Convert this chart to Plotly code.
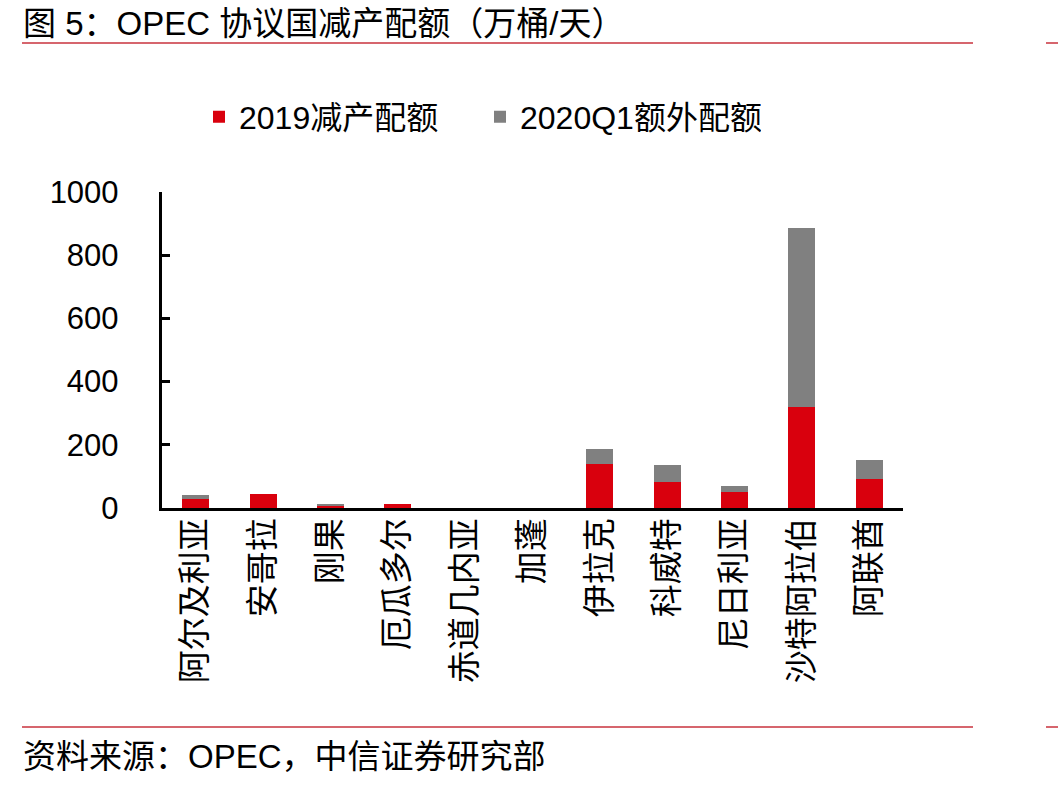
import plotly.graph_objects as go

countries = ["阿尔及利亚", "安哥拉", "刚果", "厄瓜多尔", "赤道几内亚", "加蓬",
             "伊拉克", "科威特", "尼日利亚", "沙特阿拉伯", "阿联酋"]
cut_2019 = [28, 45, 7, 12, 0, 0, 140, 82, 50, 320, 93]
extra_2020q1 = [13, 0, 3, 0, 0, 0, 48, 55, 20, 566, 60]
series_names = ["2019减产配额", "2020Q1额外配额"]
y_tick_step = 200

W, H = 1058, 787
L, R, T, B = 162, 903, 192, 508
pw, ph = R - L, B - T

def px(x):
    return (x - L) / pw

def py(y):
    return (B - y) / ph

CJK = "Liberation Sans, Arial, Noto Sans CJK SC, sans-serif"
RED = "#D9000D"
GREY = "#808080"

fig = go.Figure()
fig.add_trace(go.Bar(x=countries, y=cut_2019, name=series_names[0],
                     marker=dict(color=RED, line=dict(width=0))))
fig.add_trace(go.Bar(x=countries, y=extra_2020q1, name=series_names[1],
                     marker=dict(color=GREY, line=dict(width=0))))

fig.update_layout(
    width=W, height=H,
    barmode="stack", bargap=0.6,
    plot_bgcolor="white", paper_bgcolor="white",
    margin=dict(l=L, r=W - R, t=T, b=H - B, pad=0),
    font=dict(family=CJK, color="black"),
    legend=dict(orientation="h", x=px(199), xanchor="left", y=py(117), yanchor="middle",
                font=dict(size=32, family=CJK), entrywidth=236, entrywidthmode="pixels",
                itemclick=False, traceorder="normal", bgcolor="rgba(0,0,0,0)"),
    showlegend=True,
)
fig.update_layout(yaxis=dict(range=[0, 1000], tickmode="linear", tick0=0, dtick=y_tick_step,
                             ticks="inside", ticklen=8, tickwidth=2.5, tickcolor="black",
                             showline=True, linecolor="black", linewidth=2.5,
                             showgrid=False, zeroline=False,
                             tickfont=dict(size=31, family=CJK),
                             ticksuffix="\u00a0\u00a0\u00a0\u00a0"))
fig.update_xaxes(showline=True, linecolor="black", linewidth=3, ticks="", showgrid=False,
                 tickangle=-90, tickfont=dict(size=33, family="Noto Sans CJK SC"),
                 ticklabelstandoff=-6)

fig.add_annotation(text="图 5：OPEC 协议国减产配额（万桶/天）", xref="paper", yref="paper",
                   x=px(21), y=py(23), xanchor="left", yanchor="middle", showarrow=False,
                   font=dict(size=33, family=CJK))
fig.add_annotation(text="资料来源：OPEC，中信证券研究部", xref="paper", yref="paper",
                   x=px(21), y=py(756), xanchor="left", yanchor="middle", showarrow=False,
                   font=dict(size=33, family=CJK))
for yy in (43, 727):
    fig.add_shape(type="line", xref="paper", yref="paper", x0=px(22), x1=px(973),
                  y0=py(yy), y1=py(yy), line=dict(color="#C8323C", width=1.5))
    fig.add_shape(type="line", xref="paper", yref="paper", x0=px(1046), x1=px(1058),
                  y0=py(yy), y1=py(yy), line=dict(color="#C8323C", width=1.5))

fig.write_html("out.html")
